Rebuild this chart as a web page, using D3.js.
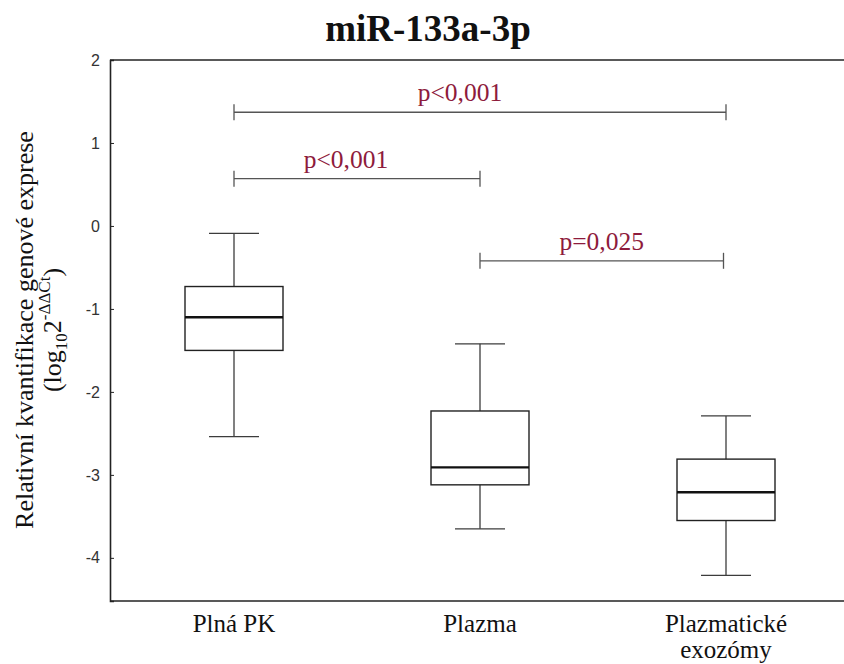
<!DOCTYPE html>
<html>
<head>
<meta charset="utf-8">
<script src="https://cdn.jsdelivr.net/npm/d3@7"></script>
<style>
  body { margin: 0; background: #fff; }
  svg { display: block; }
  .serif { font-family: "Liberation Serif", "Times New Roman", serif; }
</style>
</head>
<body>
<svg id="chart" width="844" height="664"></svg>
<script>
    //////////// DATA ////////////

    var groups = ["Plná PK", "Plazma", "Plazmatické exozómy"];
    var whiskerHigh = [-0.09, -1.42, -2.29];
    var q3 = [-0.73, -2.23, -2.81];
    var medians = [-1.10, -2.91, -3.21];
    var q1 = [-1.50, -3.12, -3.55];
    var whiskerLow = [-2.54, -3.65, -4.21];

    var yTicks = [2, 1, 0, -1, -2, -3, -4];

    // significance brackets: from group, to group, height, label
    var bracketFrom = [0, 0, 1];
    var bracketTo = [2, 1, 2];
    var bracketLevel = [1.37, 0.57, -0.42];
    var bracketLabel = ["p<0,001", "p<0,001", "p=0,025"];

    //////////// SETUP ////////////

    var svg = d3.select("#chart"),
        width = 844,
        height = 664;

    var margin = {left: 110, top: 60, right: 0, bottom: 63};

    var y = d3.scaleLinear()
        .domain([-4.52, 2])
        .range([height - margin.bottom, margin.top]);

    var x = d3.scalePoint()
        .domain(groups)
        .range([234, 726]);

    var boxW = 98, capW = 50;
    var ink = "#3c3c3c";
    var pColor = "#8e1b3c";
    // label nudges so the p-values sit where the original has them
    var labelShift = [-20, -11, 0];

    //////////// FRAME & AXES ////////////

    var frame = svg.append("g").attr("class", "frame");
    [2, -4.52].forEach(function (v) {
        frame.append("line")
            .attr("x1", margin.left).attr("x2", width)
            .attr("y1", y(v)).attr("y2", y(v))
            .attr("stroke", "#222").attr("stroke-width", 1.6);
    });

    var yAxis = svg.append("g")
        .attr("transform", "translate(" + margin.left + ",0)")
        .call(d3.axisLeft(y).tickValues(yTicks).tickSize(-4).tickPadding(10)
            .tickFormat(d3.format("d")));
    yAxis.select(".domain").attr("stroke", "#222").attr("stroke-width", 1.6);
    yAxis.selectAll(".tick line").attr("stroke", "#222");
    yAxis.selectAll(".tick text")
        .attr("font-family", "'Liberation Sans', Arial, sans-serif")
        .attr("font-size", 16)
        .attr("fill", "#333")
        .text(function (d) { return d < 0 ? "-" + Math.abs(d) : d; });

    // category labels
    var xl = svg.append("g").attr("class", "xlabels");
    groups.forEach(function (g) {
        var words = g === "Plazmatické exozómy" ? ["Plazmatické", "exozómy"] : [g];
        var t = xl.append("text")
            .attr("class", "serif")
            .attr("x", x(g))
            .attr("y", 632)
            .attr("text-anchor", "middle")
            .attr("font-size", 25)
            .attr("fill", "#111");
        words.forEach(function (w, i) {
            t.append("tspan").attr("x", x(g)).attr("dy", i === 0 ? 0 : 26).text(w);
        });
    });

    // y axis title
    var yt = svg.append("text")
        .attr("class", "serif")
        .attr("transform", "translate(33,330) rotate(-90)")
        .attr("text-anchor", "middle")
        .attr("font-size", 26)
        .attr("fill", "#111");
    yt.append("tspan").attr("x", 0).attr("dy", 0).text("Relativní kvantifikace genové exprese");
    var line2 = yt.append("tspan").attr("x", 0).attr("dy", 28);
    line2.append("tspan").text("(log");
    line2.append("tspan").attr("font-size", 17).attr("dy", 6).text("10");
    line2.append("tspan").attr("dy", -6).text("2");
    line2.append("tspan").attr("font-size", 17).attr("dy", -11).text("-ΔΔCt");
    line2.append("tspan").attr("dy", 11).text(")");

    // title
    svg.append("text")
        .attr("class", "serif")
        .attr("x", 428).attr("y", 41)
        .attr("text-anchor", "middle")
        .attr("font-weight", "bold")
        .attr("font-size", 37)
        .attr("fill", "#111")
        .text("miR-133a-3p");

    //////////// BOXES ////////////

    var boxes = svg.append("g").attr("class", "boxes")
        .selectAll("g")
        .data(groups)
        .enter().append("g");

    // whiskers
    boxes.append("line")
        .attr("x1", function (d) { return x(d); })
        .attr("x2", function (d) { return x(d); })
        .attr("y1", function (d, i) { return y(whiskerHigh[i]); })
        .attr("y2", function (d, i) { return y(whiskerLow[i]); })
        .attr("stroke", ink).attr("stroke-width", 1.3);
    [whiskerHigh, whiskerLow].forEach(function (arr) {
        boxes.append("line")
            .attr("x1", function (d) { return x(d) - capW / 2; })
            .attr("x2", function (d) { return x(d) + capW / 2; })
            .attr("y1", function (d, i) { return y(arr[i]); })
            .attr("y2", function (d, i) { return y(arr[i]); })
            .attr("stroke", ink).attr("stroke-width", 1.3);
    });

    boxes.append("rect")
        .attr("x", function (d) { return x(d) - boxW / 2; })
        .attr("width", boxW)
        .attr("y", function (d, i) { return y(q3[i]); })
        .attr("height", function (d, i) { return y(q1[i]) - y(q3[i]); })
        .attr("fill", "#fff")
        .attr("stroke", "#222").attr("stroke-width", 1.4);

    boxes.append("line")
        .attr("x1", function (d) { return x(d) - boxW / 2; })
        .attr("x2", function (d) { return x(d) + boxW / 2; })
        .attr("y1", function (d, i) { return y(medians[i]); })
        .attr("y2", function (d, i) { return y(medians[i]); })
        .attr("stroke", "#111").attr("stroke-width", 2.4);

    //////////// BRACKETS ////////////

    function bx(i, k) {
        var g = k === 0 ? bracketFrom[i] : bracketTo[i];
        // the Plazma-exozómy bracket stops a little short of the box centre
        return x(groups[g]) - (k === 1 && bracketFrom[i] === 1 ? 2.5 : 0);
    }

    var brackets = svg.append("g").attr("class", "brackets")
        .selectAll("g")
        .data(bracketLabel)
        .enter().append("g");

    brackets.append("line")
        .attr("x1", function (d, i) { return bx(i, 0); })
        .attr("x2", function (d, i) { return bx(i, 1); })
        .attr("y1", function (d, i) { return y(bracketLevel[i]); })
        .attr("y2", function (d, i) { return y(bracketLevel[i]); })
        .attr("stroke", "#555").attr("stroke-width", 1.3);
    [0, 1].forEach(function (k) {
        brackets.append("line")
            .attr("x1", function (d, i) { return bx(i, k); })
            .attr("x2", function (d, i) { return bx(i, k); })
            .attr("y1", function (d, i) { return y(bracketLevel[i]) - 8; })
            .attr("y2", function (d, i) { return y(bracketLevel[i]) + 8; })
            .attr("stroke", "#555").attr("stroke-width", 1.3);
    });

    brackets.append("text")
        .attr("class", "serif")
        .attr("x", function (d, i) {
            return (bx(i, 0) + bx(i, 1)) / 2 + labelShift[i];
        })
        .attr("y", function (d, i) { return y(bracketLevel[i]) - 11; })
        .attr("text-anchor", "middle")
        .attr("font-size", 25.5)
        .attr("fill", pColor)
        .text(function (d) { return d; });
</script>
</body>
</html>
